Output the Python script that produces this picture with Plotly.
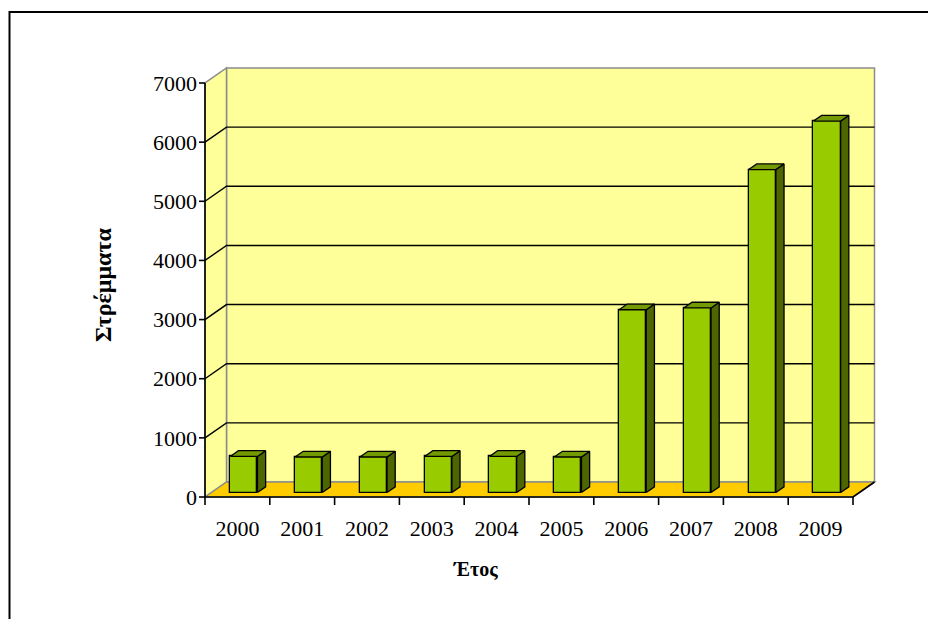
import plotly.graph_objects as go

# Cultivated area per year (stremmata)
years = ["2000", "2001", "2002", "2003", "2004", "2005", "2006", "2007", "2008", "2009"]
area = [610, 600, 600, 610, 610, 600, 3090, 3120, 5460, 6280]
y_ticks = [0, 1000, 2000, 3000, 4000, 5000, 6000, 7000]

# ---- pseudo-3D geometry (front plane in data units) ----
W, H = 928, 619
FX0, FX1 = 205, 853          # front plane left / right (px)
FY0, FYT = 497, 83           # front plane value 0 / 7000 (px)
YMAX = y_ticks[-1]
n = len(years)
ux = (FX1 - FX0) / n         # px per category
uy = (FY0 - FYT) / YMAX      # px per value unit
DX = 21.5 / ux               # depth offset of back wall (x, data units)
DY = 15.0 / uy               # depth offset of back wall (y, data units)

PL, PR, PT, PB = 198, 880, 62, 508   # plot area (px)
x_range = [-0.5 - (FX0 - PL) / ux, -0.5 + (PR - FX0) / ux]
y_range = [-(PB - FY0) / uy, (FY0 - PT) / uy]

BAR_W = 0.42                 # bar width (categories)
F1 = 0.30                    # depth fraction of the bar front face
BD = 0.38                    # bar depth fraction

WALL = "#FFFF99"
FLOOR = "#FFCC00"
EDGE = "#8C8C8C"
FRONT = "#99CC00"
TOP = "#739A00"
SIDE = "#4D6600"

xl, xr = -0.5, n - 0.5
shapes = []
# back wall
shapes.append(dict(type="rect", xref="x", yref="y", layer="below",
                   x0=xl + DX, x1=xr + DX, y0=DY, y1=YMAX + DY,
                   fillcolor=WALL, line=dict(color=EDGE, width=1.5)))
# left side wall
shapes.append(dict(type="path", xref="x", yref="y", layer="below",
                   path=f"M{xl},0 L{xl},{YMAX} L{xl + DX},{YMAX + DY} L{xl + DX},{DY} Z",
                   fillcolor=WALL, line=dict(color=EDGE, width=1.5)))
# floor
shapes.append(dict(type="path", xref="x", yref="y", layer="below",
                   path=f"M{xl},0 L{xr},0 L{xr + DX},{DY} L{xl + DX},{DY} Z",
                   fillcolor=FLOOR, line=dict(color=EDGE, width=1.5)))
# gridlines across side wall and back wall
for v in y_ticks[1:-1]:
    shapes.append(dict(type="path", xref="x", yref="y", layer="below",
                       path=f"M{xl},{v} L{xl + DX},{v + DY} L{xr + DX},{v + DY}",
                       line=dict(color="black", width=1.4)))
# outer chart frame
shapes.append(dict(type="rect", xref="paper", yref="paper",
                   x0=(9.5 - PL) / (PR - PL), x1=(940 - PL) / (PR - PL),
                   y0=(PB - 640) / (PB - PT), y1=(PB - 12) / (PB - PT),
                   line=dict(color="black", width=2), fillcolor="rgba(0,0,0,0)"))

fig = go.Figure()

# bar front faces
base = F1 * DY
xs = [i + F1 * DX for i in range(n)]
fig.add_trace(go.Bar(x=xs, y=area, base=[base] * n, width=BAR_W,
                     marker=dict(color=FRONT, line=dict(color="black", width=1.3)),
                     hoverinfo="skip", showlegend=False))

# bar side and top faces
sx, sy, tx, ty = [], [], [], []
for x, v in zip(xs, area):
    a, b = x - BAR_W / 2, x + BAR_W / 2
    top = base + v
    ox, oy = BD * DX, BD * DY
    sx += [b, b, b + ox, b + ox, b, None]
    sy += [base, top, top + oy, base + oy, base, None]
    tx += [a, b, b + ox, a + ox, a, None]
    ty += [top, top, top + oy, top + oy, top, None]
fig.add_trace(go.Scatter(x=sx, y=sy, mode="lines", fill="toself", fillcolor=SIDE,
                         line=dict(color="black", width=1.3), hoverinfo="skip", showlegend=False))
fig.add_trace(go.Scatter(x=tx, y=ty, mode="lines", fill="toself", fillcolor=TOP,
                         line=dict(color="black", width=1.3), hoverinfo="skip", showlegend=False))

# axis lines, floor front edges and tick marks
ax_x, ax_y = [], []
ax_x += [xl, xl, None, xl, xr, xr + DX, None]
ax_y += [YMAX, 0, None, 0, 0, DY, None]
for v in y_ticks:
    ax_x += [xl - 6 / ux, xl, None]
    ax_y += [v, v, None]
for k in range(n + 1):
    ax_x += [xl + k, xl + k, None]
    ax_y += [0, -8 / uy, None]
fig.add_trace(go.Scatter(x=ax_x, y=ax_y, mode="lines", line=dict(color="black", width=1.6),
                         hoverinfo="skip", showlegend=False))

TICK_FONT = dict(family="Liberation Serif", size=22, color="black")
TITLE_FONT = dict(family="Liberation Serif", size=20, color="black", weight="bold")

fig.update_layout(
    width=W, height=H, autosize=False,
    margin=dict(l=PL, r=W - PR, t=PT, b=H - PB, pad=0),
    paper_bgcolor="white", plot_bgcolor="rgba(0,0,0,0)",
    shapes=shapes, bargap=0,
    xaxis=dict(range=x_range, showgrid=False, zeroline=False, showline=False,
               tickmode="array", tickvals=list(range(n)), ticktext=years,
               ticks="", tickfont=TICK_FONT, ticklabelstandoff=5),
    yaxis=dict(range=y_range, showgrid=False, zeroline=False, showline=False,
               tickmode="array", tickvals=y_ticks, ticktext=[str(v) for v in y_ticks],
               ticks="", tickfont=TICK_FONT, ticklabelstandoff=0,
               title=dict(text="Στρέμματα", font=dict(TITLE_FONT, size=24), standoff=34)),
    annotations=[dict(text="Έτος", xref="paper", yref="paper",
                      x=(475 - PL) / (PR - PL), y=(PB - 569) / (PB - PT),
                      xanchor="center", yanchor="middle", showarrow=False,
                      font=TITLE_FONT)],
)

fig.write_html("out.html")
